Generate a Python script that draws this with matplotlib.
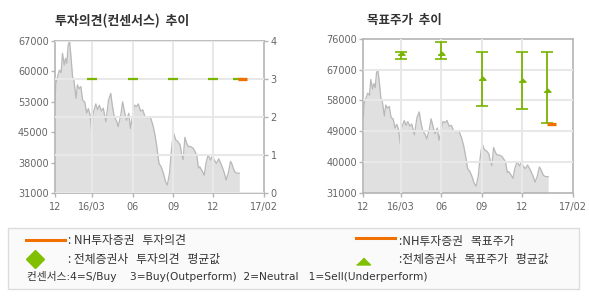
import matplotlib
matplotlib.use("Agg")
import matplotlib.pyplot as plt
from matplotlib.lines import Line2D
from matplotlib.patches import Rectangle
import numpy as np

KR = ['Noto Sans CJK KR', 'DejaVu Sans']
KR_LAT = ['DejaVu Sans', 'Noto Sans CJK KR']

## x axis is in days from 2015-12-07
tick_days = [0, 85, 177, 269, 360, 477]
tick_labels = ['12', '16/03', '06', '09', '12', '17/02']

## share price
price_day = [0, 2, 5, 10, 14, 17, 21, 24, 27, 30, 33, 36, 40, 43, 48, 51, 55, 59, 63, 68,
             72, 76, 80, 84, 87, 93, 97, 101, 106, 110, 116, 122, 127, 131, 135, 141, 144, 150, 154, 160,
             163, 168, 172, 177, 181, 186, 190, 195, 200, 205, 211, 217, 223, 228, 232, 237, 242, 247, 252, 256,
             261, 264, 267, 270, 275, 280, 285, 289, 292, 296, 300, 304, 309, 315, 319, 323, 327, 330, 336, 340,
             344, 349, 355, 359, 363, 368, 373, 378, 382, 386, 390, 395, 400, 403, 409, 414, 420]
price = [53000, 57000, 58200, 60100, 59500, 64100, 61300, 62900, 61700, 66000, 67000, 63800, 58500, 57800, 53400, 56600, 55700, 56200, 53000, 52500,
         49900, 51000, 49500, 45200, 49900, 52100, 50700, 51800, 50400, 51100, 47900, 53000, 54600, 51500, 49100, 47900, 46700, 49500, 52600, 49500,
         48200, 49900, 46300, 49500, 51800, 51500, 52100, 50400, 50700, 49100, 48800, 49100, 47100, 44700, 42000, 38000, 37200, 35700, 33700, 32900,
         35700, 39600, 42800, 45300, 43600, 43200, 42400, 40000, 38900, 44200, 42800, 42000, 42000, 41600, 40800, 40000, 36900, 37200, 36100, 35200,
         38000, 40000, 38800, 40000, 38800, 38000, 39100, 38000, 36900, 35700, 34100, 35700, 38500, 37900, 36100, 35700, 35700]

## consensus (all brokers) averages
cons_day = [85, 177, 269, 360, 417]
cons_opinion = [3, 3, 3, 3, 3]
target_mean = [71700, 71900, 64500, 64000, 61000]
target_high = [72000, 75000, 72000, 72000, 72000]
target_low = [70000, 70000, 56200, 55400, 51300]

## NH investment opinion / target price
nh_day = [417, 438]
nh_opinion = [3, 3]
nh_target = [51000, 51000]

GREEN = '#78b400'
ORANGE = '#f07000'
GRID = '#e8e8e8'
SPINE = '#b4b4b4'
TXT = '#666666'

fig = plt.figure(figsize=(5.9, 3.0), dpi=100)


def fx(p):
    return p / 590.0


def fy(p):
    return 1 - p / 300.0


def style_axes(a):
    for s in a.spines.values():
        s.set_color(SPINE)
        s.set_linewidth(1.2)
    a.tick_params(colors=SPINE, labelcolor=TXT, labelsize=7, length=3, width=1, pad=1.5)
    a.tick_params(axis='x', pad=3.5)
    a.set_xlim(0, 477)
    a.set_xticks(tick_days)
    a.set_xticklabels(tick_labels)


def price_area(a):
    a.fill_between(price_day, price, 31000, color='#e0e0e0', lw=0, zorder=1)
    a.plot(price_day, price, color='#b8b8b8', lw=0.9, zorder=1.5)


## ---- left: investment opinion ----
ax = fig.add_axes([fx(55), fy(193), fx(209.3), 152 / 300])
style_axes(ax)
price_area(ax)
ax.set_ylim(31000, 67000)
lt = np.linspace(31000, 67000, 6)
ax.set_yticks(lt)
ax.set_yticklabels([f'{round(v, -3):.0f}' for v in lt])
ax.set_axisbelow(False)
ax.grid(axis='x', color=GRID, lw=1.5, zorder=2)
for t in ax.xaxis.get_major_ticks()[::5]:
    t.gridline.set_visible(False)

ax2 = ax.twinx()
ax2.set_ylim(0, 4)
ax2.set_yticks([0, 1, 2, 3, 4])
for s in ax2.spines.values():
    s.set_visible(False)
ax2.tick_params(colors=SPINE, labelcolor=TXT, labelsize=7, length=3, width=1, pad=1.5)
ax2.grid(axis='y', color=GRID, lw=1.5)
ax2.plot(cons_day, cons_opinion, ls='none', marker='_', ms=6.5, mew=1.6, color=GREEN, zorder=3)
ax2.plot(nh_day, nh_opinion, color=ORANGE, lw=2.4, solid_capstyle='butt', zorder=4)

fig.text(fx(55), fy(20.5), '투자의견(컨센서스)  추이', family=KR, fontsize=9.3,
         fontweight='bold', color='#333333', va='center', ha='left')

## ---- right: target price ----
bx = fig.add_axes([fx(363.3), fy(192.7), fx(210), 154 / 300])
style_axes(bx)
price_area(bx)
bx.set_ylim(31000, 76000)
bx.set_yticks(np.arange(31000, 76001, 9000))
bx.tick_params(axis='y', right=False)
bx.set_axisbelow(False)
bx.grid(color=GRID, lw=1.5, zorder=2)
for t in bx.xaxis.get_major_ticks()[::5]:
    t.gridline.set_visible(False)
for t in (bx.yaxis.get_major_ticks()[0], bx.yaxis.get_major_ticks()[-1]):
    t.gridline.set_visible(False)

err = [np.subtract(target_mean, target_low), np.subtract(target_high, target_mean)]
bx.errorbar(cons_day, target_mean, yerr=err, fmt='none', ecolor=GREEN, elinewidth=1.3,
            capsize=4, capthick=1.2, zorder=3)
tri = [(-1, -0.5), (1, -0.5), (0, 0.5)]
bx.plot(cons_day, target_mean, ls='none', marker=tri, ms=5, color=GREEN, zorder=4)
bx.plot(nh_day, nh_target, color=ORANGE, lw=2.4, solid_capstyle='butt', zorder=4)

fig.text(fx(367), fy(20.5), '목표주가  추이', family=KR, fontsize=9,
         fontweight='bold', color='#333333', va='center', ha='left')

## ---- legend box ----
fig.patches.append(Rectangle((fx(8.3), fy(289.3)), fx(571), 61 / 300, transform=fig.transFigure,
                             facecolor='#fafafa', edgecolor='#dcdcdc', lw=1))
fig.lines.append(Line2D([fx(26), fx(65)], [fy(240), fy(240)], transform=fig.transFigure,
                        color=ORANGE, lw=2.2))
fig.lines.append(Line2D([fx(35)], [fy(259)], transform=fig.transFigure, ls='none',
                        marker='D', ms=9, color='#80c000'))
fig.lines.append(Line2D([fx(356), fx(395)], [fy(238.3), fy(238.3)], transform=fig.transFigure,
                        color=ORANGE, lw=2.2))
fig.lines.append(Line2D([fx(362.7)], [fy(260.7)], transform=fig.transFigure, ls='none',
                        marker=tri, ms=10, color='#80c000'))

leg_kw = dict(family=KR, fontsize=8.5, color='#333333', va='center', ha='left')
fig.text(fx(68), fy(240.8), ': NH투자증권   투자의견', **leg_kw)
fig.text(fx(68), fy(259), ': 전체증권사   투자의견   평균값', **leg_kw)
fig.text(fx(399), fy(241.7), ':NH투자증권   목표주가', **leg_kw)
fig.text(fx(399), fy(259), ':전체증권사   목표주가   평균값', **leg_kw)
leg_kw.update(family=KR_LAT, fontsize=7.7)
fig.text(fx(26.7), fy(276.7), '컨센서스:4=S/Buy    3=Buy(Outperform)  2=Neutral   1=Sell(Underperform)', **leg_kw)

fig.savefig('out.png', dpi=100)
